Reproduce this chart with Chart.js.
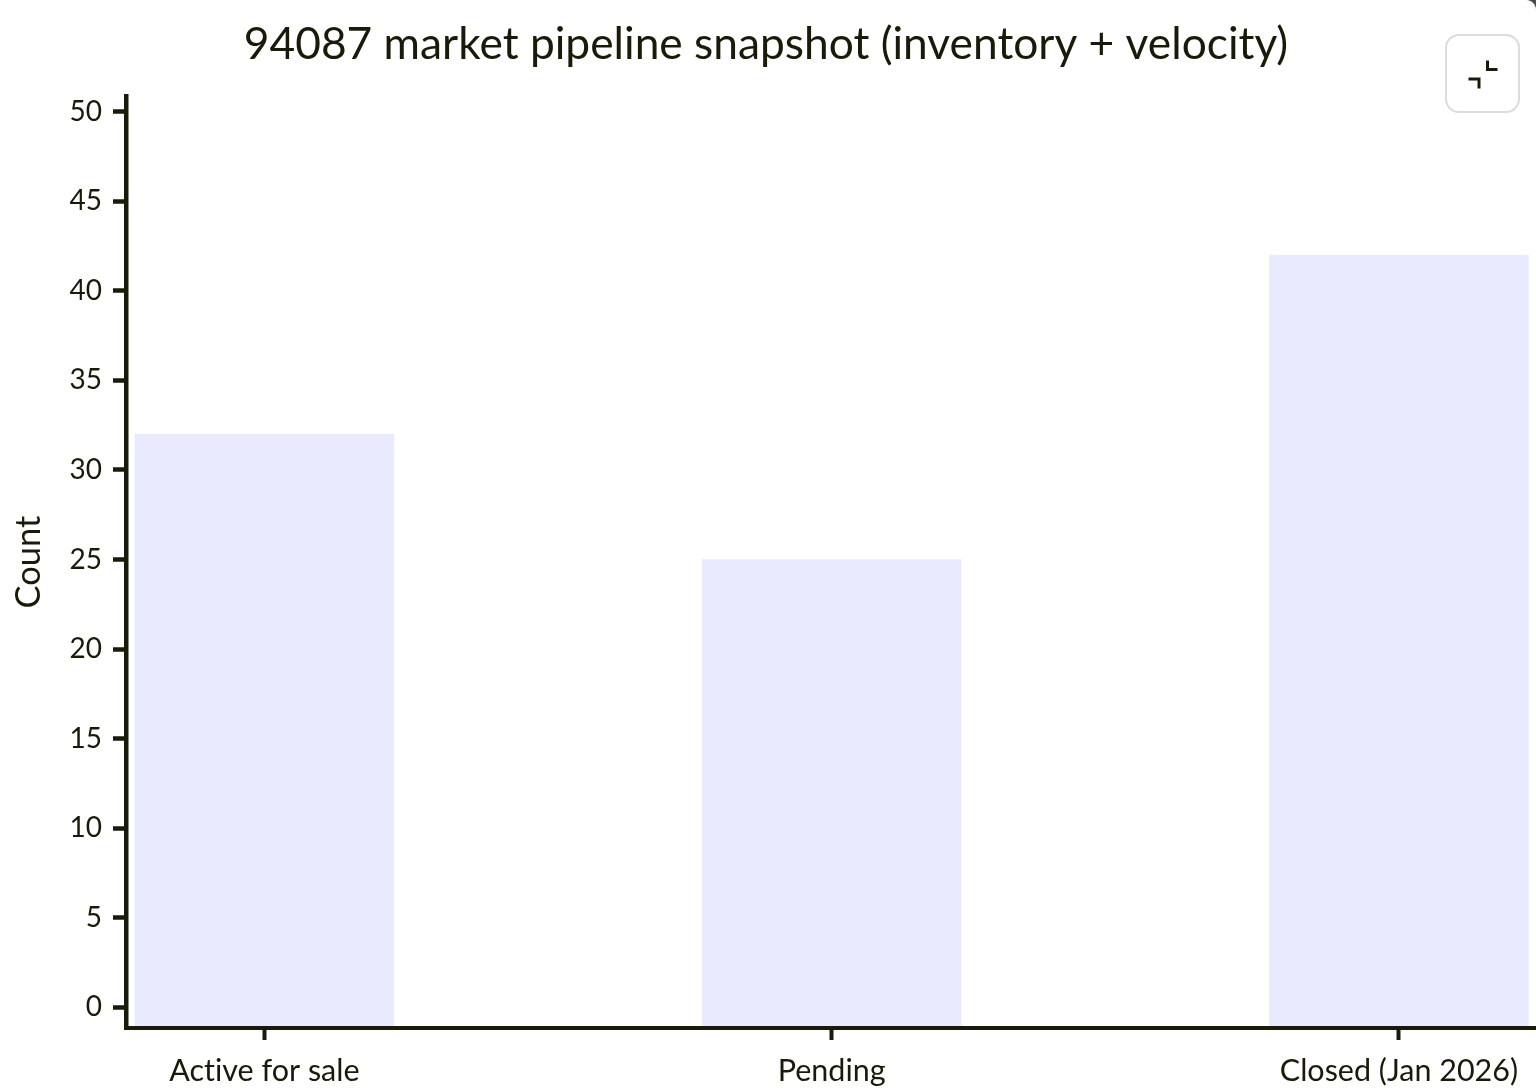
<!DOCTYPE html>
<html>
<head>
<meta charset="utf-8">
<title>94087 market pipeline snapshot</title>
<style>
  html, body { margin: 0; height: 100%; background: #fff; overflow: hidden; }
  #wrap { position: relative; width: 1536px; height: 1090px; background: #fff; overflow: hidden; }
  #chart { position: absolute; left: -4px; top: 0; }
  #corner { position: absolute; right: 0; top: 0; width: 10px; height: 10px;
    background: radial-gradient(circle at 0 100%, transparent 9.5px, #4a4a4a 10.5px); }
  #toggle { position: absolute; left: 1445px; top: 34px; width: 75px; height: 79px; box-sizing: border-box;
    background: #fff; border: 2px solid #dcdcdc; border-radius: 14px; padding: 0; }
  #toggle svg { display: block; margin: auto; }
</style>
</head>
<body>
<div id="wrap">
  <canvas id="chart" width="1540" height="1090"></canvas>
  <div id="corner"></div>
  <button id="toggle" type="button" aria-label="Collapse">
    <svg width="32" height="32" viewBox="0 0 32 32" fill="none" stroke="#1a1a0a" stroke-width="3">
      <path d="M1.5 21 H12 V30.5"/><path d="M20.5 2.5 V11.5 H30.5"/>
    </svg>
  </button>
</div>
<script src="https://cdn.jsdelivr.net/npm/chart.js@4/dist/chart.umd.js"></script>
<script>
var categories = ['Active for sale', 'Pending', 'Closed (Jan 2026)'];
var counts = [32, 25, 42];
var yTicks = [0, 5, 10, 15, 20, 25, 30, 35, 40, 45, 50];
var ink = '#1a1a0a';
var fontName = 'Lato, sans-serif';

// no "ti" ligature in the original labels
var noLigatures = {
  id: 'noLigatures',
  beforeDraw: function(chart) { chart.ctx.textRendering = 'optimizeSpeed'; }
};

new Chart(document.getElementById('chart'), {
  type: 'bar',
  plugins: [noLigatures],
  data: {
    datasets: [{
      data: counts.map(function(v, i) { return { x: i, y: v }; }),
      backgroundColor: '#e9eafd',
      barThickness: 259,
      base: -1.156
    }]
  },
  options: {
    responsive: false,
    animation: false,
    plugins: {
      legend: { display: false },
      tooltip: { enabled: false },
      title: {
        display: true,
        text: '94087 market pipeline snapshot (inventory + velocity)',
        color: ink,
        font: { family: fontName, size: 44.3, weight: 'normal' },
        padding: { top: 18, bottom: 24.84 }
      }
    },
    scales: {
      x: {
        type: 'linear',
        offset: false,
        min: -0.244,
        max: 2.2416,
        afterBuildTicks: function(axis) {
          axis.ticks = categories.map(function(c, i) { return { value: i }; });
        },
        afterFit: function(axis) { axis.height = 62; },
        border: { color: ink, width: 4, z: 1 },
        grid: { offset: false, drawOnChartArea: false, color: ink, tickColor: ink, tickWidth: 4, tickLength: 12, z: 1 },
        ticks: {
          color: ink,
          autoSkip: false,
          maxRotation: 0,
          padding: 13,
          font: { family: fontName, size: 30.5 },
          callback: function(v) { return categories[v]; }
        }
      },
      y: {
        min: -1.156,
        max: 50.88,
        afterBuildTicks: function(axis) {
          axis.ticks = yTicks.map(function(v) { return { value: v }; });
        },
        afterFit: function(axis) { axis.width = 130; },
        title: { display: true, text: 'Count', color: ink, font: { family: fontName, size: 34.5 }, padding: { top: 12.3, bottom: 0 } },
        border: { color: ink, width: 4.5 },
        grid: { drawOnChartArea: false, color: ink, tickColor: ink, tickWidth: 4.5, tickLength: 13 },
        ticks: { color: ink, padding: 11, font: { family: fontName, size: 28 } }
      }
    }
  }
});
</script>
</body>
</html>
